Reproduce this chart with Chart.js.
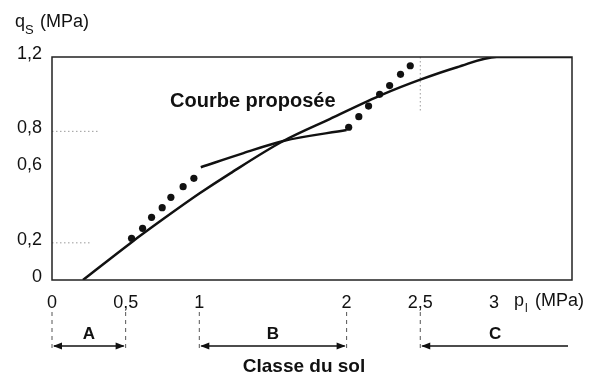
<!DOCTYPE html>
<html>
<head>
<meta charset="utf-8">
<script src="https://cdn.jsdelivr.net/npm/chart.js@4.4.1/dist/chart.umd.min.js"></script>
<style>
  html, body { margin: 0; padding: 0; background: #fff; }
  #wrap { width: 592px; height: 378px; }
</style>
</head>
<body>
<div id="wrap"><canvas id="c" width="592" height="378"></canvas></div>
<script>
// Tick values on both axes
const xTicks = [0, 0.5, 1, 2, 2.5, 3];
const yTicks = [0, 0.2, 0.6, 0.8, 1.2];

// Proposed design curve q_s(p_l)
const curveP = [0.21, 0.53, 0.75, 1.0, 1.21, 1.57, 1.885, 2.25, 2.5, 2.75, 3.02, 3.53];
const curveQ = [0, 0.197, 0.325, 0.465, 0.574, 0.748, 0.866, 1.0, 1.078, 1.145, 1.2, 1.2];

// Intermediate fitted segment between p_l = 1 and 2
const fitP = [1.01, 1.3, 1.57, 2.0];
const fitQ = [0.607, 0.683, 0.748, 0.807];

// Measured points
const testP = [0.54, 0.615, 0.676, 0.748, 0.807, 0.89, 0.963,
               2.014, 2.083, 2.149, 2.224, 2.292, 2.366, 2.432];
const testQ = [0.224, 0.278, 0.337, 0.389, 0.445, 0.502, 0.547,
               0.822, 0.879, 0.936, 0.999, 1.046, 1.107, 1.153];

// Soil classes along the p_l axis
const classBounds = [0, 0.5, 1, 2, 2.5];
const classNames = ['A', 'B', 'C'];

const INK = '#111';
const FONT = '"Liberation Sans", Arial, Helvetica, sans-serif';
Chart.defaults.font.family = FONT;
Chart.defaults.color = INK;

const toPts = (xs, ys) => xs.map((x, i) => ({ x, y: ys[i] }));
const fmt = v => String(v).replace('.', ',');

function arrowHead(ctx, x, y, dir) {
  ctx.beginPath();
  ctx.moveTo(x, y);
  ctx.lineTo(x - dir * 9, y - 3.5);
  ctx.lineTo(x - dir * 9, y + 3.5);
  ctx.closePath();
  ctx.fill();
}

const decor = {
  id: 'decor',
  beforeDatasetsDraw(chart) {
    const { ctx, chartArea: a, scales: { x, y } } = chart;
    ctx.save();
    // faint dotted reference marks
    ctx.strokeStyle = '#9a9a9a';
    ctx.lineWidth = 1;
    ctx.setLineDash([1.5, 2.5]);
    ctx.beginPath();
    ctx.moveTo(a.left, y.getPixelForValue(0.8)); ctx.lineTo(x.getPixelForValue(0.31), y.getPixelForValue(0.8));
    ctx.moveTo(a.left, y.getPixelForValue(0.2)); ctx.lineTo(x.getPixelForValue(0.26), y.getPixelForValue(0.2));
    ctx.moveTo(x.getPixelForValue(2.5), a.top); ctx.lineTo(x.getPixelForValue(2.5), y.getPixelForValue(0.91));
    ctx.stroke();
    ctx.restore();
  },
  afterDraw(chart) {
    const { ctx, chartArea: a, scales: { x, y } } = chart;
    ctx.save();
    // frame
    ctx.strokeStyle = '#222';
    ctx.lineWidth = 1.5;
    ctx.strokeRect(a.left, a.top, a.right - a.left, a.bottom - a.top);

    // axis titles
    ctx.fillStyle = INK;
    ctx.textBaseline = 'alphabetic';
    ctx.textAlign = 'left';
    ctx.font = '18px ' + FONT;
    ctx.fillText('q', 15, 27);
    ctx.font = '13px ' + FONT;
    ctx.fillText('S', 25, 34);
    ctx.font = '18px ' + FONT;
    ctx.fillText('(MPa)', 40, 27);

    ctx.font = '18px ' + FONT;
    ctx.fillText('p', 514, 306);
    ctx.font = '12px ' + FONT;
    ctx.fillText('l', 525, 312);
    ctx.font = '18px ' + FONT;
    ctx.fillText('(MPa)', 535, 306);

    // curve caption
    ctx.font = 'bold 20px ' + FONT;
    ctx.fillText('Courbe proposée', 170, 107);

    // soil class bands below the axis
    const yTop = 312, yBot = 348, yArr = 346;
    ctx.strokeStyle = '#555';
    ctx.lineWidth = 1;
    ctx.setLineDash([4, 4]);
    ctx.beginPath();
    classBounds.forEach(v => {
      const px = x.getPixelForValue(v);
      ctx.moveTo(px, yTop); ctx.lineTo(px, yBot);
    });
    ctx.stroke();
    ctx.setLineDash([]);

    const spans = [
      [x.getPixelForValue(0), x.getPixelForValue(0.5), true, true],
      [x.getPixelForValue(1), x.getPixelForValue(2), true, true],
      [x.getPixelForValue(2.5), a.right - 2, true, false]
    ];
    ctx.strokeStyle = INK;
    ctx.fillStyle = INK;
    ctx.lineWidth = 1.5;
    spans.forEach(([l, r, hl, hr], i) => {
      ctx.beginPath();
      ctx.moveTo(l + 2, yArr); ctx.lineTo(r - 2, yArr);
      ctx.stroke();
      if (hl) arrowHead(ctx, l + 1, yArr, -1);
      if (hr) arrowHead(ctx, r - 1, yArr, 1);
      ctx.font = 'bold 17px ' + FONT;
      ctx.textAlign = 'center';
      ctx.textBaseline = 'middle';
      ctx.fillText(classNames[i], (l + r) / 2, 334);
    });

    ctx.font = 'bold 19px ' + FONT;
    ctx.textAlign = 'center';
    ctx.textBaseline = 'middle';
    ctx.fillText('Classe du sol', 304, 367);
    ctx.restore();
  }
};

new Chart(document.getElementById('c'), {
  type: 'scatter',
  data: {
    datasets: [
      {
        data: toPts(curveP, curveQ),
        showLine: true,
        borderColor: INK,
        borderWidth: 2.5,
        pointRadius: 0,
        cubicInterpolationMode: 'monotone',
        fill: false
      },
      {
        data: toPts(fitP, fitQ),
        showLine: true,
        borderColor: INK,
        borderWidth: 2.5,
        pointRadius: 0,
        cubicInterpolationMode: 'monotone',
        fill: false
      },
      {
        data: toPts(testP, testQ),
        showLine: false,
        pointRadius: 3.6,
        pointBackgroundColor: INK,
        pointBorderWidth: 0
      }
    ]
  },
  options: {
    responsive: false,
    devicePixelRatio: 1,
    animation: false,
    layout: { padding: { top: 57, right: 20, left: 0, bottom: 0 } },
    plugins: { legend: { display: false }, tooltip: { enabled: false } },
    scales: {
      x: {
        type: 'linear',
        min: 0,
        max: 3.53,
        afterBuildTicks: s => { s.ticks = xTicks.map(v => ({ value: v })); },
        afterFit: s => { s.height = 98; },
        grid: { display: false, drawTicks: false },
        border: { display: false },
        ticks: {
          padding: 12,
          font: { size: 18 },
          color: INK,
          maxRotation: 0,
          autoSkip: false,
          callback: v => fmt(v)
        }
      },
      y: {
        type: 'linear',
        min: 0,
        max: 1.2,
        afterBuildTicks: s => { s.ticks = yTicks.map(v => ({ value: v })); },
        afterFit: s => { s.width = 52; },
        grid: { display: false, drawTicks: false },
        border: { display: false },
        ticks: {
          padding: 10,
          labelOffset: -3,
          font: { size: 18 },
          color: INK,
          autoSkip: false,
          callback: v => fmt(v)
        }
      }
    }
  },
  plugins: [decor]
});
</script>
</body>
</html>
